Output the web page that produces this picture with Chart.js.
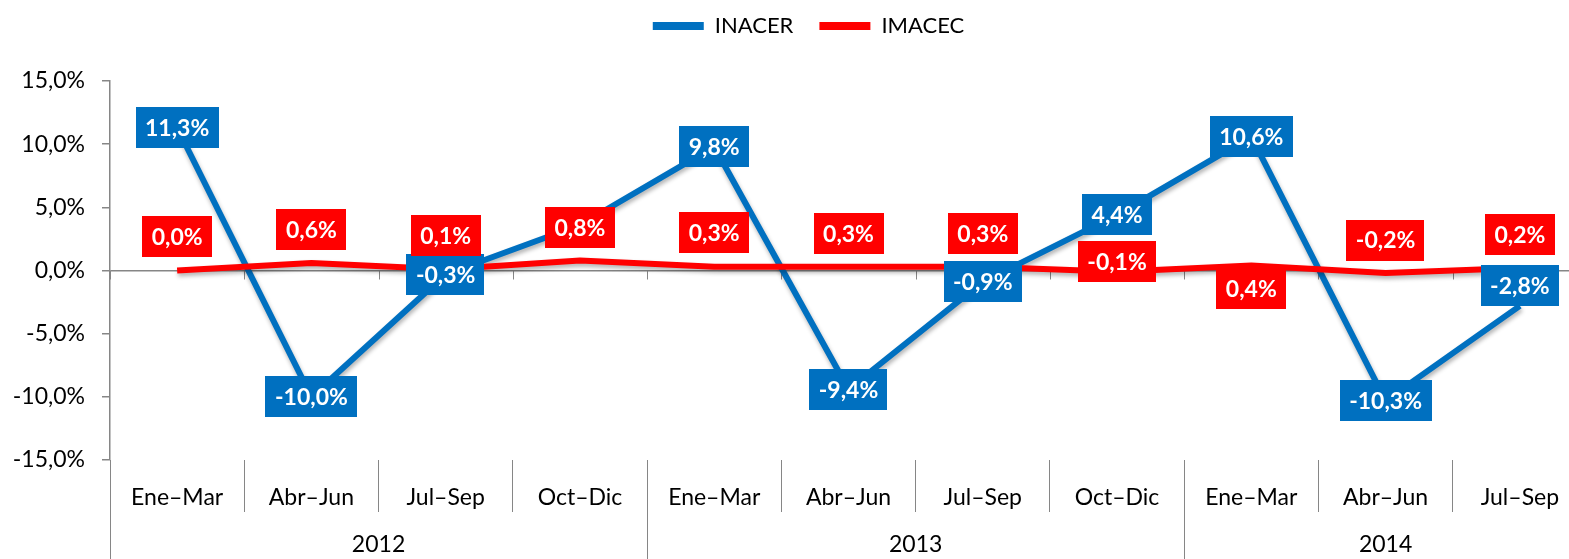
<!DOCTYPE html>
<html>
<head>
<meta charset="utf-8">
<script src="https://cdn.jsdelivr.net/npm/chart.js@4.4.1/dist/chart.umd.min.js"></script>
<style>
html, body { margin:0; padding:0; background:#fff; overflow:hidden; }
#wrap { width:1600px; height:559px; }
</style>
</head>
<body>
<div id="wrap"><canvas id="chart" width="1600" height="559"></canvas></div>
<script>
const quarters = ['Ene–Mar','Abr–Jun','Jul–Sep','Oct–Dic','Ene–Mar','Abr–Jun','Jul–Sep','Oct–Dic','Ene–Mar','Abr–Jun','Jul–Sep'];
const years = ['2012','2013','2014'];
const quartersPerYear = [4, 4, 3];
const inacer = [11.3, -10.0, -0.3, 3.6, 9.8, -9.4, -0.9, 4.4, 10.6, -10.3, -2.8];
const imacec = [0.0, 0.6, 0.1, 0.8, 0.3, 0.3, 0.3, -0.1, 0.4, -0.2, 0.2];
const yMin = -15, yMax = 15, yStep = 5;

const fmt = v => v.toFixed(1).replace('.', ',') + '%';

// light shadow under each line, like the spreadsheet original
const lineShadow = {
    id: 'lineShadow',
    beforeDatasetDraw(chart) {
        const c = chart.ctx;
        c.save();
        c.shadowColor = 'rgba(0,0,0,0.3)';
        c.shadowBlur = 4;
        c.shadowOffsetX = 1;
        c.shadowOffsetY = 3;
    },
    afterDatasetDraw(chart) { chart.ctx.restore(); }
};

// tick marks on the zero line, year separators and year labels
const axisExtras = {
    id: 'axisExtras',
    beforeDatasetsDraw(chart) {
        const {ctx, scales: {x, y}, chartArea} = chart;
        const y0 = y.getPixelForValue(0);
        const half = (x.getPixelForValue(1) - x.getPixelForValue(0)) / 2;
        const edge = i => Math.round(x.getPixelForValue(0) - half + i * 2 * half) + 0.5;
        ctx.save();
        ctx.strokeStyle = '#868686';
        ctx.lineWidth = 1;
        ctx.beginPath();
        for (let i = 0; i <= quarters.length; i++) {
            ctx.moveTo(edge(i), y0);
            ctx.lineTo(edge(i), y0 + 9);
        }
        let idx = 0;
        [0, ...quartersPerYear].forEach(n => {
            idx += n;
            ctx.moveTo(edge(idx), chartArea.bottom);
            ctx.lineTo(edge(idx), chart.height);
        });
        ctx.stroke();

        ctx.fillStyle = '#000';
        ctx.font = '23px Lato';
        ctx.textAlign = 'center';
        ctx.textBaseline = 'middle';
        let start = 0;
        years.forEach((yr, k) => {
            const end = start + quartersPerYear[k];
            const cx = (x.getPixelForValue(start) + x.getPixelForValue(end - 1)) / 2;
            ctx.fillText(yr, cx, chartArea.bottom + 85);
            start = end;
        });
        ctx.restore();
    }
};

// filled value boxes on every point
const boxLabels = {
    id: 'boxLabels',
    afterDatasetsDraw(chart, args, opts) {
        const ctx = chart.ctx;
        ctx.save();
        ctx.font = 'bold 23px Lato';
        ctx.textAlign = 'center';
        ctx.textBaseline = 'middle';
        chart.data.datasets.forEach((ds, di) => {
            const meta = chart.getDatasetMeta(di);
            const shifts = opts.shifts[di];
            meta.data.forEach((pt, i) => {
                const txt = fmt(ds.data[i]);
                const w = ctx.measureText(txt).width + 19, h = 41;
                const cx = pt.x, cy = pt.y + shifts[i];
                ctx.fillStyle = ds.borderColor;
                ctx.fillRect(Math.round(cx - w / 2), Math.round(cy - h / 2), Math.round(w), h);
                ctx.fillStyle = '#fff';
                ctx.fillText(txt, cx, cy + 1);
            });
        });
        ctx.restore();
    }
};

const legendShift = {
    id: 'legendShift',
    afterLayout(chart) {
        const l = chart.legend;
        l.left += 15; l.right += 15;
        l.top -= 34; l.bottom -= 34;
    }
};

new Chart(document.getElementById('chart'), {
    type: 'line',
    data: {
        labels: quarters,
        datasets: [
            { label: 'INACER', data: inacer, borderColor: '#0070C0', backgroundColor: '#0070C0', borderWidth: 6, pointRadius: 0, borderJoinStyle: 'round', order: 1 },
            { label: 'IMACEC', data: imacec, borderColor: '#FF0000', backgroundColor: '#FF0000', borderWidth: 6, pointRadius: 0, borderJoinStyle: 'round', order: 0 }
        ]
    },
    options: {
        responsive: false,
        animation: false,
        devicePixelRatio: 1,
        layout: { padding: { top: 23, right: 13, left: 0, bottom: 0 } },
        plugins: {
            legend: {
                position: 'top',
                labels: {
                    boxWidth: 51, boxHeight: 8, padding: 26, color: '#000',
                    font: { family: 'Lato', size: 22 },
                    sort: (a, b) => a.datasetIndex - b.datasetIndex,
                    generateLabels: chart => Chart.defaults.plugins.legend.labels.generateLabels(chart).map(l => ({ ...l, lineWidth: 0 }))
                }
            },
            tooltip: { enabled: false },
            boxLabels: {
                shifts: [
                    [0, 0, 0, 2, 0, 0, 0, 0, 0, 0, -20],
                    [-34, -33, -34, -33, -34, -33, -33, -10, 23, -33, -33]
                ]
            }
        },
        scales: {
            x: {
                offset: true,
                grid: { offset: true, drawOnChartArea: false, tickLength: 52, color: '#868686', tickColor: '#868686' },
                border: { display: false },
                ticks: { padding: -28, autoSkip: false, maxRotation: 0, color: '#000', font: { family: 'Lato', size: 23 } },
                afterFit: s => { s.height = 99; }
            },
            y: {
                min: yMin, max: yMax,
                ticks: { stepSize: yStep, padding: 17, callback: v => fmt(v), color: '#000', font: { family: 'Lato', size: 23 } },
                grid: { color: c => c.tick && c.tick.value === 0 ? '#868686' : 'transparent', tickColor: '#868686', tickLength: 8, lineWidth: 1.5 },
                border: { color: '#868686', width: 1.5 },
                afterFit: s => { s.width = 110; }
            }
        }
    },
    plugins: [lineShadow, axisExtras, boxLabels, legendShift]
});
</script>
</body>
</html>
